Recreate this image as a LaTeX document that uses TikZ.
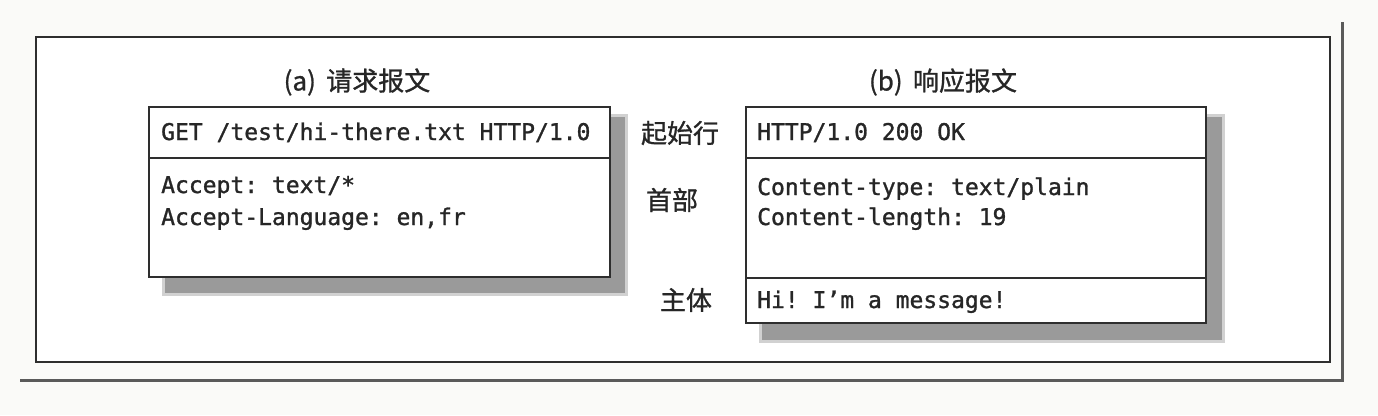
\documentclass[tikz,border=0pt]{standalone}
\usepackage{fontspec}
\setmonofont[FakeBold=1.2]{DejaVu Sans Mono}
\newfontfamily\cjk[FakeBold=1]{Noto Sans CJK SC}
\definecolor{bgc}{HTML}{FAFAF8}
\definecolor{linec}{HTML}{2E2E2E}
\definecolor{txtc}{HTML}{262626}
\definecolor{shadc}{HTML}{9A9A9A}
\definecolor{outc}{HTML}{5A5A5A}
\begin{document}
\begin{tikzpicture}[x=1pt,y=-1pt,
  mono/.style={font=\ttfamily\fontsize{23}{27}\selectfont, text=txtc, anchor=base west, inner sep=0pt},
  cjklabel/.style={font=\cjk\fontsize{26}{30}\selectfont, text=txtc, inner sep=0pt},
  boxline/.style={draw=linec, line width=1.6pt},
  shad/.style={fill=shadc}]
\fill[bgc] (0,0) rectangle (1378,415);
\useasboundingbox (0,0) rectangle (1378,415);
% outer frame with shadow line
\draw[outc, line width=3pt] (20,380) -- (1342,380) -- (1342,22);
\filldraw[fill=white, draw=linec, line width=1.5pt] (36,37) rectangle (1330,362);
% titles
\node[cjklabel] (ta) at (357,82) {(a)\hspace{0.4em}请求报文};
\node[cjklabel] (tb) at (943,82) {(b)\hspace{0.4em}响应报文};
% request box
\fill[shad, opacity=0.45] (162,114) rectangle (628,296);
\fill[shad] (165,117) rectangle (625,293);
\filldraw[fill=white, boxline] (149,107) rectangle (610,277);
\draw[boxline] (149,158) -- (610,158);
\node[mono] (reqline) at (161,140) {GET /test/hi-there.txt HTTP/1.0};
\node[mono] (reqh1) at (161,193) {Accept: text/*};
\node[mono] (reqh2) at (161,225) {Accept-Language: en,fr};
% response box
\fill[shad, opacity=0.45] (759,114) rectangle (1225,343);
\fill[shad] (762,117) rectangle (1222,340);
\filldraw[fill=white, boxline] (746,107) rectangle (1206,323);
\draw[boxline] (746,158) -- (1206,158);
\draw[boxline] (746,278) -- (1206,278);
\node[mono] (resline) at (757,140) {HTTP/1.0 200 OK};
\node[mono] (resh1) at (757,195) {Content-type: text/plain};
\node[mono] (resh2) at (757,225) {Content-length: 19};
\node[mono] (resbody) at (757,308) {Hi! I’m a message!};
% side labels
\node[cjklabel] (lstart) at (680,133) {起始行};
\node[cjklabel] (lhead) at (672,200) {首部};
\node[cjklabel] (lbody) at (686,300) {主体};
\end{tikzpicture}
\end{document}
